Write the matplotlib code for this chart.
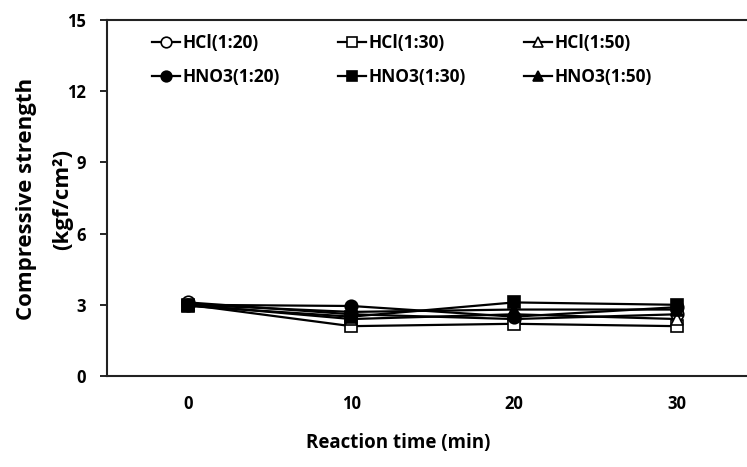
import matplotlib
matplotlib.use("Agg")
import matplotlib.pyplot as plt

plt.rcParams["font.family"] = ["Open Sans", "DejaVu Sans"]
plt.rcParams["font.weight"] = "bold"

times = [0, 10, 20, 30]
series_names = ["HCl(1:20)", "HCl(1:30)", "HCl(1:50)",
                "HNO3(1:20)", "HNO3(1:30)", "HNO3(1:50)"]
hcl_1_20 = [3.1, 2.6, 2.4, 2.6]
hcl_1_30 = [3.0, 2.1, 2.2, 2.1]
hcl_1_50 = [3.0, 2.4, 2.6, 2.4]
hno3_1_20 = [3.0, 2.95, 2.5, 2.9]
hno3_1_30 = [2.95, 2.5, 3.1, 3.0]
hno3_1_50 = [3.0, 2.7, 2.8, 2.8]
y_ticks = [0, 3, 6, 9, 12, 15]

values = [hcl_1_20, hcl_1_30, hcl_1_50, hno3_1_20, hno3_1_30, hno3_1_50]
markers = ["o", "s", "^", "o", "s", "^"]
fills = ["white", "white", "white", "black", "black", "black"]

fig = plt.figure(figsize=(7.47, 4.67), dpi=100)
ax = fig.add_axes([107 / 747, 91 / 467, 1 - 107 / 747, 356 / 467])

lines = []
for name, vals, m, fc in zip(series_names, values, markers, fills):
    ln, = ax.plot(times, vals, color="black", lw=1.6, marker=m, markersize=9,
                  markerfacecolor=fc, markeredgecolor="black", markeredgewidth=1.2,
                  label=name)
    lines.append(ln)

ax.set_xlim(-5, 34.3)
ax.set_ylim(0, 15)
ax.set_yticks(y_ticks)
ax.set_xticks(times)
ax.tick_params(axis="x", length=0, pad=14, labelsize=12)
ax.tick_params(axis="y", direction="out", length=5, width=1.2, pad=10, labelsize=12)
for s in ["left", "bottom", "top"]:
    ax.spines[s].set_linewidth(1.5)
    ax.spines[s].set_color("#222222")
ax.spines["right"].set_visible(False)

fig.text(398 / 747, 1 - 443 / 467, "Reaction time (min)", ha="center", va="center",
         fontsize=13.5, fontweight="bold")
fig.text(27 / 747, 1 - 199 / 467, "Compressive strength", rotation=90,
         ha="center", va="center", fontsize=16, fontweight="bold")
fig.text(63 / 747, 1 - 199 / 467, "(kgf/cm²)", rotation=90,
         ha="center", va="center", fontsize=16, fontweight="bold")

# legend fills column by column, so interleave to get row-wise order
order = [0, 3, 1, 4, 2, 5]
ax.legend([lines[i] for i in order], [series_names[i] for i in order],
          loc="upper left", bbox_to_anchor=(31 / 640, 1.0), ncol=3, frameon=False,
          fontsize=12.5, handlelength=1.6, handletextpad=0.15, columnspacing=3.35,
          labelspacing=0.95, markerscale=0.85, borderaxespad=0.4)

fig.savefig("out.png", dpi=100)
